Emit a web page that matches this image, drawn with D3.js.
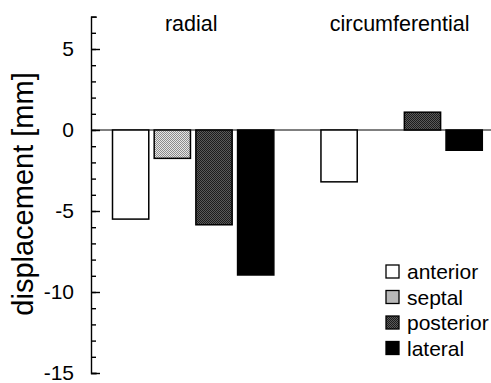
<!DOCTYPE html>
<html>
<head>
<meta charset="utf-8">
<script src="https://cdn.jsdelivr.net/npm/d3@7.9.0/dist/d3.min.js"></script>
<style>
  body { margin: 0; background: #fff; }
  svg { display: block; font-family: Arial, "Liberation Sans", sans-serif; }
</style>
</head>
<body>
<svg width="491" height="383"></svg>
<script>
const groups = ['radial', 'circumferential'];
const regions = ['anterior', 'septal', 'posterior', 'lateral'];
const radial = [-5.5, -1.75, -5.85, -8.95];
const circumferential = [-3.2, 0, 1.1, -1.25];
const majorTicks = [-15, -10, -5, 0, 5];
const minorTicks = d3.range(-15, 8);

let svg = d3.select('svg');

// fills: white, light dither, dark dither, black
let defs = svg.append('defs');
function dither(id, base, dot) {
    let p = defs.append('pattern')
        .attr('id', id)
        .attr('width', 2).attr('height', 2)
        .attr('patternUnits', 'userSpaceOnUse');
    p.append('rect').attr('width', 2).attr('height', 2).attr('fill', base);
    p.append('rect').attr('width', 1).attr('height', 1).attr('fill', dot);
    p.append('rect').attr('x', 1).attr('y', 1).attr('width', 1).attr('height', 1).attr('fill', dot);
}
dither('septalFill', '#e6e6e6', '#8c8c8c');
dither('posteriorFill', '#5a5a5a', '#1c1c1c');
let fills = ['#fff', 'url(#septalFill)', 'url(#posteriorFill)', '#000'];

// 9 slots: 4 radial, one empty, 4 circumferential
let slots = [];
groups.forEach((g, gi) => {
    regions.forEach((r) => slots.push(g + '-' + r));
    if (gi === 0) slots.push('gap');
});

let x = d3.scaleBand().domain(slots).range([112.5, 482.3]).paddingInner(0.13).paddingOuter(0);
let y = d3.scaleLinear().domain([-15, 7]).range([373, 16.6]);
let axisX = 91;

let bars = [];
regions.forEach((r, i) => {
    bars.push({ key: 'radial-' + r, value: radial[i], idx: i });
    bars.push({ key: 'circumferential-' + r, value: circumferential[i], idx: i });
});

// zero line
svg.append('line')
    .attr('x1', axisX).attr('x2', 491)
    .attr('y1', y(0)).attr('y2', y(0))
    .attr('stroke', '#000').attr('stroke-width', 1);

svg.selectAll('rect.bar')
    .data(bars.filter((d) => d.value !== 0))
    .join('rect')
    .attr('class', 'bar')
    .attr('x', (d) => x(d.key))
    .attr('width', x.bandwidth())
    .attr('y', (d) => y(Math.max(0, d.value)))
    .attr('height', (d) => Math.abs(y(d.value) - y(0)))
    .attr('fill', (d) => fills[d.idx])
    .attr('stroke', '#000')
    .attr('stroke-width', 1.5);

// y axis: minor ticks + brackets, then labelled major ticks
let minorAxis = d3.axisLeft(y).tickValues(minorTicks).tickSize(-5).tickSizeOuter(-6).tickFormat(() => '');
let gMinor = svg.append('g').attr('class', 'minor').attr('transform', `translate(${axisX},0)`).call(minorAxis);
gMinor.select('.domain').attr('stroke', '#000').attr('stroke-width', 1.4);
gMinor.selectAll('.tick line').attr('stroke', '#000').attr('stroke-width', 1.4);

let majorAxis = d3.axisLeft(y).tickValues(majorTicks).tickSize(-9).tickPadding(17).tickFormat((d) => String(d));
let gMajor = svg.append('g').attr('class', 'major').attr('transform', `translate(${axisX},0)`).call(majorAxis);
gMajor.select('.domain').remove();
gMajor.selectAll('.tick line').attr('stroke', '#000').attr('stroke-width', 1.4);
gMajor.selectAll('text')
    .attr('font-size', 21)
    .attr('font-family', 'Arial, "Liberation Sans", sans-serif')
    .attr('fill', '#000');

// group titles
groups.forEach((g) => {
    let first = x(g + '-' + regions[0]);
    let last = x(g + '-' + regions[regions.length - 1]) + x.bandwidth();
    svg.append('text')
        .attr('x', (first + last) / 2 - 2)
        .attr('y', 31)
        .attr('text-anchor', 'middle')
        .attr('font-size', 21.5)
        .text(g);
});

svg.append('text')
    .attr('transform', `translate(33,194) rotate(-90)`)
    .attr('text-anchor', 'middle')
    .attr('font-size', 29)
    .text('displacement [mm]');

// legend
let legend = svg.append('g').attr('transform', 'translate(386,265)');
regions.forEach((r, i) => {
    let row = legend.append('g').attr('transform', `translate(0,${i * 25.5})`);
    row.append('rect')
        .attr('width', 13).attr('height', 13)
        .attr('fill', fills[i])
        .attr('stroke', '#000').attr('stroke-width', 1.3);
    row.append('text')
        .attr('x', 21).attr('y', 6.5).attr('dy', '0.36em')
        .attr('font-size', 21)
        .text(r);
});
</script>
</body>
</html>
